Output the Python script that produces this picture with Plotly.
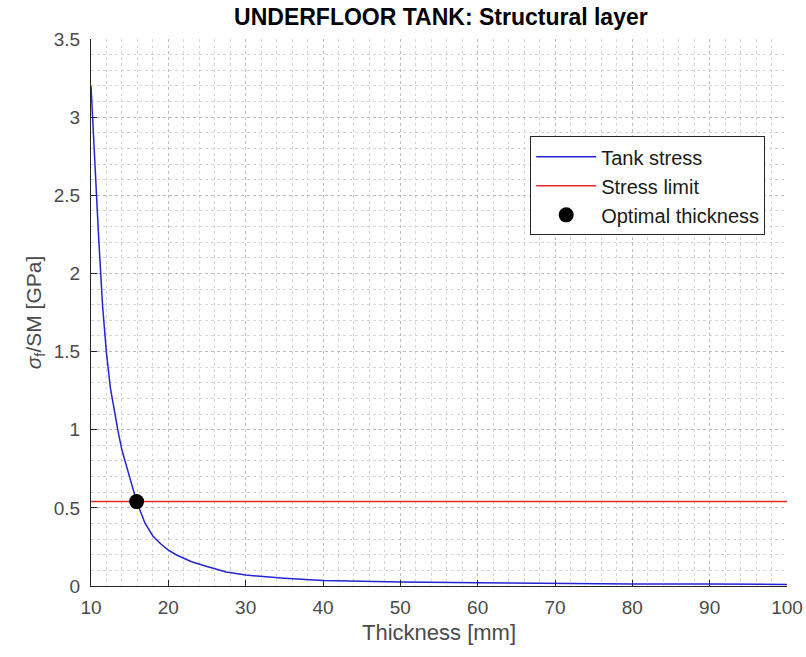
import plotly.graph_objects as go

# Thickness [mm] and resulting tank stress [GPa]
thickness = [10, 10.25, 10.5, 10.75, 11, 11.5, 12, 12.5, 13, 13.5, 14, 14.5, 15,
             15.9, 17, 18, 19, 20, 21, 22, 23, 25, 27.5, 30, 35, 40, 45, 50,
             60, 70, 80, 90, 100]
stress = [3.2, 2.93, 2.70, 2.47, 2.22, 1.79, 1.49, 1.27, 1.12, 0.99, 0.87, 0.78, 0.69,
          0.54, 0.40, 0.32, 0.27, 0.23, 0.20, 0.175, 0.155, 0.125, 0.09, 0.07, 0.05, 0.035,
          0.03, 0.025, 0.02, 0.015, 0.013, 0.012, 0.01]

stress_limit = 0.54
limit_x = [10, 100]
optimal_thickness = 15.9
optimal_stress = 0.54

font_family = "Liberation Sans, Arial, sans-serif"
axis_color = "#262626"
label_color = "#4a4a4a"

fig = go.Figure()
fig.add_trace(go.Scatter(x=thickness, y=stress, mode="lines", name="Tank stress",
                         line=dict(color="#2424d0", width=1.5)))
fig.add_trace(go.Scatter(x=limit_x, y=[stress_limit, stress_limit], mode="lines",
                         name="Stress limit", line=dict(color="#e02a2a", width=1.5)))
fig.add_trace(go.Scatter(x=[optimal_thickness], y=[optimal_stress], mode="markers",
                         name="Optimal thickness",
                         marker=dict(color="black", size=15)))

grid = dict(showgrid=True, gridcolor="#bdbdbd", griddash="dot", gridwidth=1)

fig.update_layout(
    width=806, height=657,
    margin=dict(l=91, r=19, t=39, b=71),
    paper_bgcolor="white", plot_bgcolor="white",
    font=dict(family=font_family, size=19, color=label_color),
    title=dict(text="<b>UNDERFLOOR TANK: Structural layer</b>", x=0.547, xanchor="center",
               y=0.974, yanchor="middle", font=dict(size=23, color="black")),
    showlegend=True,
    legend=dict(x=0.631, y=0.822, xanchor="left", yanchor="top",
                bgcolor="white", bordercolor=axis_color, borderwidth=1,
                font=dict(size=20, color="#1a1a1a"), tracegroupgap=0, itemwidth=60),
)

fig.update_xaxes(range=[10, 100], dtick=10, tick0=10, ticks="inside", ticklen=6,
                 tickcolor=axis_color, showline=True, linecolor=axis_color, linewidth=1,
                 zeroline=False, tickfont=dict(size=19), ticklabelstandoff=4,
                 automargin=False,
                 title=dict(text="Thickness [mm]", font=dict(size=22), standoff=7),
                 minor=dict(dtick=2, showgrid=True, gridcolor="#d6d6d6", griddash="dot"),
                 **grid)
fig.update_yaxes(range=[0, 3.5], dtick=0.5, ticks="inside", ticklen=6,
                 tickcolor=axis_color, showline=True, linecolor=axis_color, linewidth=1,
                 zeroline=False, tickfont=dict(size=19), ticklabelstandoff=6,
                 automargin=False,
                 title=dict(text="<i>σ</i><sub>f</sub>/SM [GPa]", font=dict(size=21), standoff=6),
                 minor=dict(dtick=0.1, showgrid=True, gridcolor="#d6d6d6", griddash="dot"),
                 **grid)

fig.write_html("out.html")
